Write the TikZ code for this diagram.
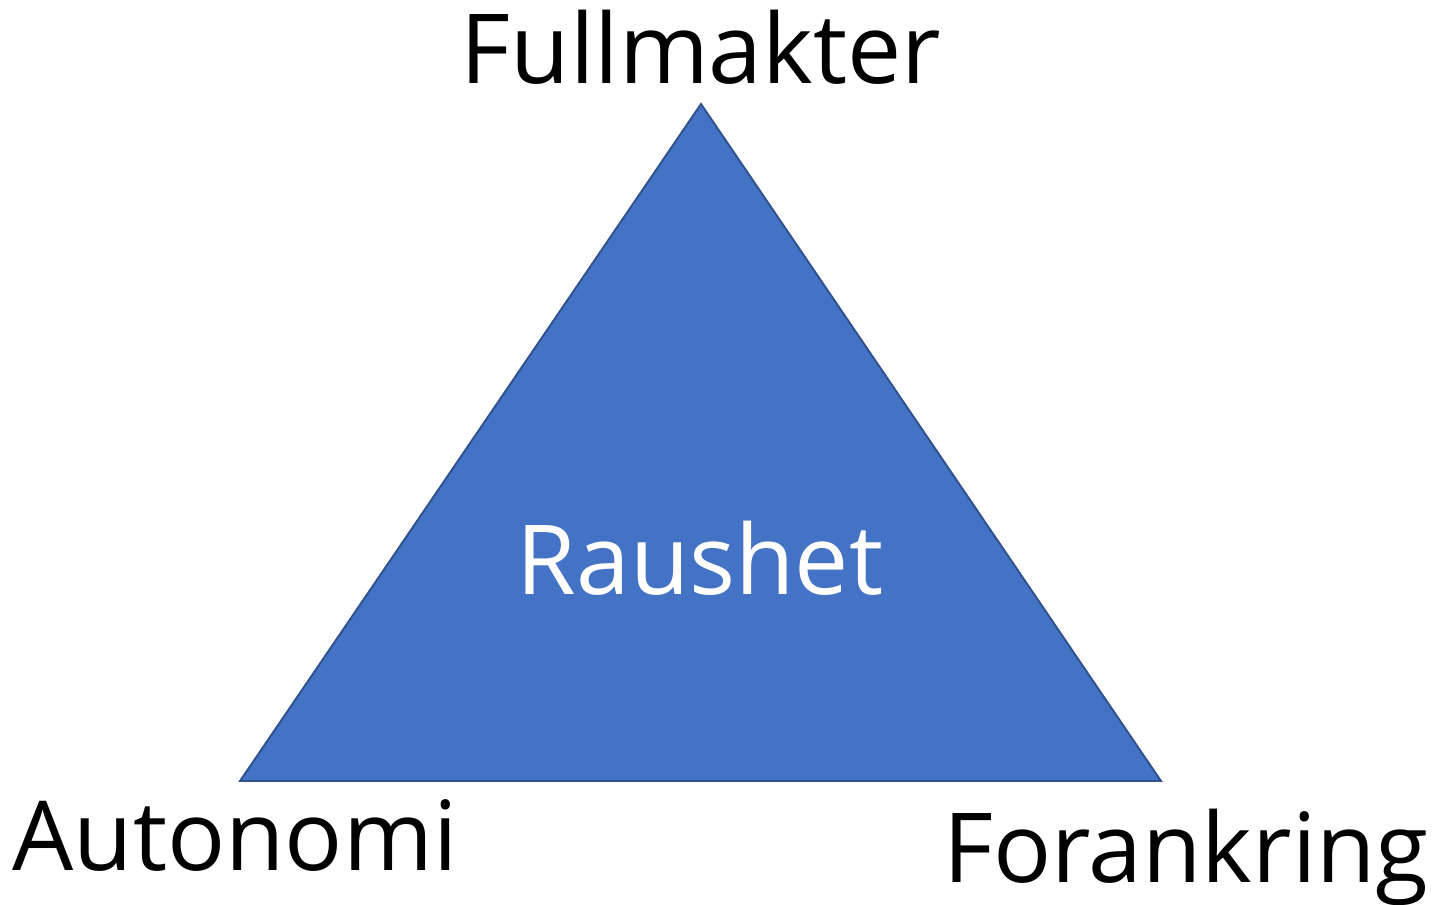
\documentclass[tikz,border=0pt]{standalone}
\usepackage{fontspec}
\setmainfont{Open Sans}
\usepackage{tikz}
\usetikzlibrary{positioning}
\definecolor{triblue}{HTML}{4472C4}
\definecolor{triedge}{HTML}{2F528F}

\begin{document}
\begin{tikzpicture}[
		x=0.02cm, y=-0.02cm,
		corner/.style = {font=\fontsize{55}{60}\selectfont, text=black, inner sep=0pt, anchor=base},
		inside/.style = {corner, text=white},
		triangle/.style = {draw=triedge, line width=1.1pt, fill=triblue, line join=miter}]
		
		\useasboundingbox (0,0) rectangle (1434,904);
		
		% corners of the triangle
		\coordinate (top) at (701,104);
		\coordinate (left) at (240,781);
		\coordinate (right) at (1161,781);
		
		\draw[triangle] (top) -- (left) -- (right) -- cycle;
		
		% labels
		\node[corner] (full) at (701,83) {Fullmakter};
		\node[corner] (auto) at (235,870) {Autonomi};
		\node[corner] (fora) at (1186,882) {Forankring};
		\node[inside] (raus) at (700,594) {Raushet};
		
	\end{tikzpicture}
\end{document}
